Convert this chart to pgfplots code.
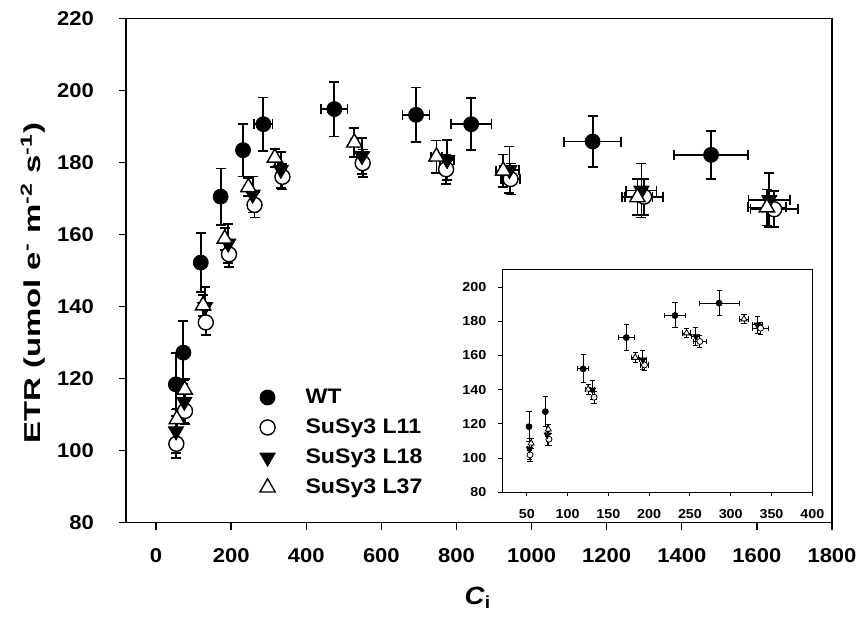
\documentclass[border=0pt]{standalone}
\usepackage{pgfplots}
\usepackage{pgfplotstable}
\pgfplotsset{compat=1.18}
\usepackage{fontspec}
\setmainfont{Liberation Sans}[FakeStretch=1.1]

\pgfplotstableread{
x y ex ey
52.8 118.4 2 8.8
72.8 127.2 2 8.8
119.1 152.2 6.7 8.2
172 170.5 9.5 7.8
231.7 183.4 13.4 7.3
285.8 190.6 24.4 7.4
474.7 194.8 35 7.6
692.4 193.2 36 7.6
839.1 190.6 54 7.2
1162.7 185.8 76 7.1
1478 182.1 98 6.7
}\wt

\pgfplotstableread{
x y ex ey
54 101.9 2 4
77.2 111 2 3.5
132.5 135.6 3 3.5
194.3 154.5 5 3.5
262.2 168.2 8 3.5
336.6 176 10 3.5
550.2 179.8 12 3.8
772.4 178.1 15 4
944 175.4 25 4.3
1299.5 170.5 50 5
1646 167 63 5
}\lone

\pgfplotstableread{
x y ex ey
53.3 105.4 2 6
75.2 113.6 2 6
130.5 139.9 3 5.5
192.3 157.5 4 5.5
257.3 171.1 5 5
332.5 178 6 5
548.4 181.8 12 5
775 180.7 18 5.5
941 177.9 25 6.5
1292.5 172.2 40 7.5
1632.9 169.6 55 7.5
}\ltwo

\pgfplotstableread{
x y ex ey
55.3 108.7 2 3
76.4 116.9 2 3
125.2 140.3 3 3
182.9 158.8 4 3
245.9 173.1 5 2.5
316.3 181.3 6 2.5
528 185.5 10 4
746.7 181.6 15 4.5
924.5 177.7 20 4.5
1281.8 170.3 40 5
1626.7 167.5 50 5
}\lthree

\begin{document}
\begin{tikzpicture}
\useasboundingbox (-63pt,-51.65pt) rectangle (368pt,261.35pt);
\begin{axis}[
  at={(0,0)}, anchor=south west,
  scale only axis, width=353pt, height=252.2pt,
  xmin=-80, xmax=1800, ymin=80, ymax=220,
  xtick={0,200,...,1800}, ytick={80,100,...,220},
  tick pos=left, tick align=outside,
  major tick length=3.5pt,
  axis line style={line width=0.7pt},
  every tick/.style={line width=0.7pt, black},
  /pgf/number format/assume math mode=true,
  /pgf/number format/1000 sep={},
  ticklabel style={font=\bfseries\fontsize{10}{12}\selectfont},
  xticklabel style={yshift=-6pt},
  yticklabel style={xshift=-9pt},
  xlabel={\textbf{\textit{C}\textsubscript{i}}},
  ylabel={\scalebox{1.3}[1]{\textbf{ETR (umol e\textsuperscript{-} m\textsuperscript{-2} s\textsuperscript{-1})}}},
  xlabel style={font=\bfseries\fontsize{12.5}{14}\selectfont, at={(axis description cs:0.4986,-0.149)}, anchor=center},
  ylabel style={font=\bfseries\fontsize{11.5}{13}\selectfont, at={(axis description cs:-0.1317,0.475)}, anchor=center},
  error bars/error bar style={line width=0.9pt, black, solid},
  error bars/error mark options={rotate=90, line width=0.9pt, black, solid, mark size=2.5pt},
  legend style={draw=none, fill=none, inner sep=0pt, at={(axis cs:264,118.4)}, anchor=north west,
    font=\bfseries\fontsize{10.5}{12}\selectfont, row sep=2.2pt, legend cell align=left},
  legend image code/.code={\path[draw=none, fill=none] (0pt,0pt) -- (23pt,0pt); \draw[#1] plot coordinates {(6pt,0pt)};},
  clip=false,
]
\addplot[only marks, mark=*, mark size=3.75pt, mark options={fill=black, draw=black, solid},
  error bars/.cd, x dir=both, x explicit, y dir=both, y explicit]
  table[x=x, y=y, x error=ex, y error=ey] {\wt};
\addlegendentry{WT}
\addplot[only marks, mark=*, mark size=3.75pt, mark options={fill=white, draw=black, line width=0.7pt, solid},
  error bars/.cd, x dir=both, x explicit, y dir=both, y explicit]
  table[x=x, y=y, x error=ex, y error=ey] {\lone};
\addlegendentry{SuSy3 L11}
\addplot[only marks, mark=triangle*, mark size=4.4pt, mark options={fill=black, draw=black, rotate=180, solid},
  error bars/.cd, x dir=both, x explicit, y dir=both, y explicit]
  table[x=x, y=y, x error=ex, y error=ey] {\ltwo};
\addlegendentry{SuSy3 L18}
\addplot[only marks, mark=triangle*, mark size=4.4pt, mark options={fill=white, draw=black, line width=0.7pt, solid},
  error bars/.cd, x dir=both, x explicit, y dir=both, y explicit]
  table[x=x, y=y, x error=ex, y error=ey] {\lthree};
\addlegendentry{SuSy3 L37}
\end{axis}

\begin{axis}[
  at={(188.15pt,15.2pt)}, anchor=south west,
  scale only axis, width=155pt, height=111.15pt,
  xmin=20, xmax=400, ymin=80, ymax=210,
  xtick={50,100,...,400}, ytick={80,100,...,200},
  tick pos=left, tick align=outside,
  major tick length=2pt,
  axis background/.style={fill=white},
  axis line style={line width=0.5pt},
  every tick/.style={line width=0.5pt, black},
  /pgf/number format/assume math mode=true,
  ticklabel style={font=\bfseries\fontsize{6.5}{8}\selectfont},
  xticklabel style={yshift=-3pt},
  yticklabel style={xshift=-2.5pt},
  error bars/error bar style={line width=0.5pt, black, solid},
  error bars/error mark options={rotate=90, line width=0.5pt, black, solid, mark size=1.3pt},
]
\addplot[only marks, mark=*, mark size=1.5pt, mark options={fill=black, draw=black, solid},
  restrict x to domain=0:400,
  error bars/.cd, x dir=both, x explicit, y dir=both, y explicit]
  table[x=x, y=y, x error=ex, y error=ey] {\wt};
\addplot[only marks, mark=*, mark size=1.5pt, mark options={fill=white, draw=black, line width=0.4pt, solid},
  restrict x to domain=0:400,
  error bars/.cd, x dir=both, x explicit, y dir=both, y explicit]
  table[x=x, y=y, x error=ex, y error=ey] {\lone};
\addplot[only marks, mark=triangle*, mark size=1.8pt, mark options={fill=black, draw=black, rotate=180, solid},
  restrict x to domain=0:400,
  error bars/.cd, x dir=both, x explicit, y dir=both, y explicit]
  table[x=x, y=y, x error=ex, y error=ey] {\ltwo};
\addplot[only marks, mark=triangle*, mark size=1.8pt, mark options={fill=white, draw=black, line width=0.4pt, solid},
  restrict x to domain=0:400,
  error bars/.cd, x dir=both, x explicit, y dir=both, y explicit]
  table[x=x, y=y, x error=ex, y error=ey] {\lthree};
\end{axis}
\end{tikzpicture}
\end{document}
